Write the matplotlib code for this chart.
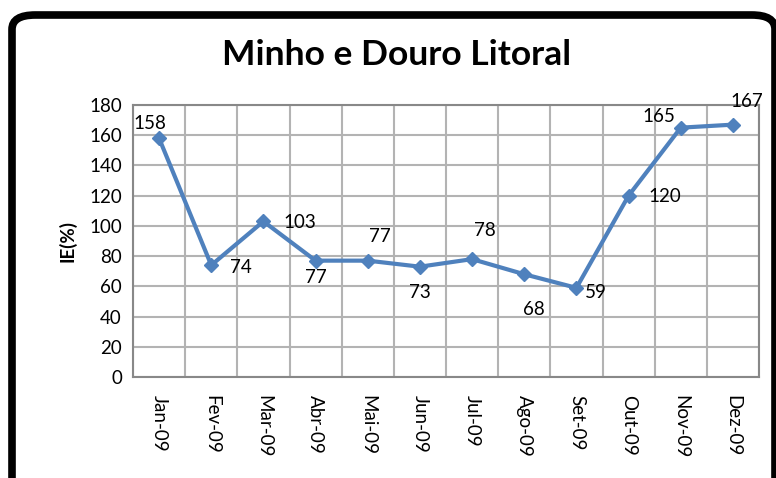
import matplotlib
matplotlib.use("Agg")
import matplotlib.pyplot as plt
from matplotlib.patches import FancyBboxPatch

months = ["Jan-09", "Fev-09", "Mar-09", "Abr-09", "Mai-09", "Jun-09",
          "Jul-09", "Ago-09", "Set-09", "Out-09", "Nov-09", "Dez-09"]
values = [158, 74, 103, 77, 77, 73, 78, 68, 59, 120, 165, 167]
label_offsets = [(-9, 15), (30, -2), (36, -1), (0, -17), (12, 24), (0, -26),
                 (13, 29), (10, -35), (19, -5), (36, -1), (-22, 11), (14, 23)]
yticks = list(range(0, 181, 20))

plt.rcParams['font.family'] = ['Lato', 'DejaVu Sans']

W, H = 776, 478
fig = plt.figure(figsize=(W / 100, H / 100), dpi=100)
fig.patch.set_facecolor('white')

# rounded frame
frame = FancyBboxPatch((12 / W, -20 / H), (763 / W), (463 / H + 20 / H),
                       boxstyle="round,pad=0,rounding_size=0.03",
                       transform=fig.transFigure, facecolor='none',
                       edgecolor='black', linewidth=5.5, clip_on=False)
fig.patches.append(frame)

ax = fig.add_axes([133 / W, 1 - 377 / H, (759 - 133) / W, (377 - 105) / H])
x = list(range(len(months)))
ax.plot(x, values, color='#4F81BD', linewidth=3, marker='D', markersize=7,
        zorder=3)
ax.set_xlim(-0.5, len(months) - 0.5)
ax.set_ylim(0, 180)
ax.set_yticks(yticks)
ax.set_yticklabels([str(v) for v in yticks], fontsize=13.5)
ax.set_xticks(x)
ax.set_xticklabels(months, rotation=-90, fontsize=13.5, va='top', ha='center')
ax.set_xticks([i - 0.5 for i in range(len(months) + 1)], minor=True)
ax.grid(True, which='minor', axis='x', color='#b3b3b3', linewidth=1.5)
ax.grid(True, which='major', axis='y', color='#b3b3b3', linewidth=1.5)
ax.tick_params(axis='both', which='both', length=0)
ax.tick_params(axis='x', pad=13)
ax.tick_params(axis='y', pad=8)
for s in ax.spines.values():
    s.set_color('#888888')
    s.set_linewidth(1.5)
ax.set_axisbelow(True)

for xi, v, off in zip(x, values, label_offsets):
    ax.annotate(str(v), (xi, v), xytext=off, textcoords='offset pixels',
                ha='center', va='center', fontsize=13.5, color='black')

ax.set_ylabel("IE(%)", fontsize=13.5, fontweight='bold', labelpad=9)
fig.text(397 / W, 1 - 55 / H, "Minho e Douro Litoral", ha='center',
         va='center', fontsize=25.5, fontweight='bold')

fig.savefig("out.png", dpi=100)
